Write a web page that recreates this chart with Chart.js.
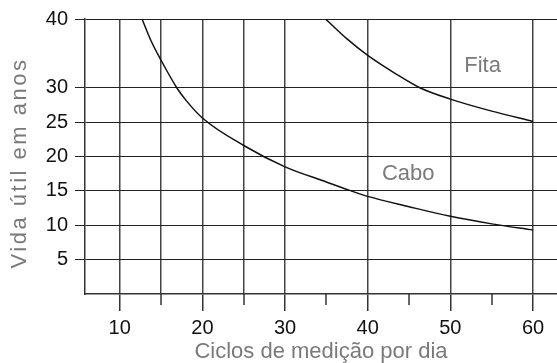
<!DOCTYPE html>
<html>
<head>
<meta charset="utf-8">
<script src="https://cdn.jsdelivr.net/npm/chart.js@4"></script>
<style>
  html, body { margin: 0; padding: 0; background: #fff; }
  #wrap { width: 557px; height: 363px; }
</style>
</head>
<body>
<div id="wrap"><canvas id="chart"></canvas></div>
<script>
// Vida útil (anos) em função dos ciclos de medição por dia
const caboX = [12.7, 13.8, 15, 16.9, 18, 20, 25, 30, 35, 38, 40, 45, 50, 55, 60];
const caboY = [40, 36.8, 34.0, 30, 28.2, 25.6, 21.6, 18.5, 16.3, 15, 14.2, 12.7, 11.3, 10.2, 9.3];
const fitaX = [34.9, 37.5, 40, 43.3, 46.3, 50, 55, 60];
const fitaY = [40, 37.1, 34.7, 32.1, 30, 28.35, 26.6, 25.1];

const xTicks = [10, 15, 20, 25, 30, 35, 40, 45, 50, 55, 60];
const xLabeled = [10, 20, 30, 40, 50, 60];
const xGrid = [10, 15, 20, 25, 30, 40, 50, 60];
const yTicks = [5, 10, 15, 20, 25, 30, 40];

const notes = [
  { text: 'Fita', x: 53.9, y: 33.2 },
  { text: 'Cabo', x: 44.9, y: 17.5 }
];

const tickFont = { family: "'Liberation Sans', Arial, sans-serif", size: 20 };
const textFont = "22px 'Liberation Sans', Arial, sans-serif";
const grey = '#7a7a7a';

const toPoints = (xs, ys) => xs.map((v, i) => ({ x: v, y: ys[i] }));

// short ticks, curve names and the rotated axis title
const extras = {
  id: 'extras',
  afterDraw(chart) {
    const { ctx, chartArea } = chart;
    const x = chart.scales.x, y = chart.scales.y;
    ctx.save();
    ctx.strokeStyle = '#333';
    ctx.lineWidth = 1.5;
    xTicks.filter(v => !xLabeled.includes(v)).forEach(v => {
      const px = Math.round(x.getPixelForValue(v));
      ctx.beginPath();
      ctx.moveTo(px, chartArea.bottom);
      ctx.lineTo(px, chartArea.bottom + 11);
      ctx.stroke();
    });

    ctx.fillStyle = grey;
    ctx.font = textFont;
    ctx.textAlign = 'center';
    ctx.textBaseline = 'middle';
    notes.forEach(n => ctx.fillText(n.text, x.getPixelForValue(n.x), y.getPixelForValue(n.y)));

    ctx.translate(20, 163);
    ctx.rotate(-Math.PI / 2);
    ctx.letterSpacing = '2.5px';
    ctx.fillText('Vida útil em anos', 0, 0);
    ctx.restore();
  }
};

new Chart(document.getElementById('chart').getContext('2d'), {
  type: 'line',
  data: {
    datasets: [
      { label: 'Cabo', data: toPoints(caboX, caboY) },
      { label: 'Fita', data: toPoints(fitaX, fitaY) }
    ]
  },
  options: {
    responsive: true,
    maintainAspectRatio: false,
    animation: false,
    layout: { padding: { top: 19, right: 0, bottom: 0, left: 0 } },
    elements: {
      point: { radius: 0 },
      line: { borderColor: '#111', borderWidth: 1.5, cubicInterpolationMode: 'monotone' }
    },
    plugins: { legend: { display: false }, tooltip: { enabled: false } },
    scales: {
      x: {
        type: 'linear',
        min: 5.8,
        max: 62.9,
        afterBuildTicks: s => { s.ticks = xTicks.map(v => ({ value: v })); },
        afterFit: s => { s.height = 69; },
        ticks: {
          autoSkip: false,
          maxRotation: 0,
          padding: 5,
          color: '#111',
          font: tickFont,
          callback: v => xLabeled.includes(v) ? String(v) : ''
        },
        grid: {
          color: c => xGrid.includes(c.tick && c.tick.value) ? '#444' : 'rgba(0,0,0,0)',
          lineWidth: 1.5,
          tickLength: 17,
          tickColor: c => xLabeled.includes(c.tick && c.tick.value) ? '#333' : 'rgba(0,0,0,0)'
        },
        border: { color: '#333', width: 1.5 },
        title: {
          display: true,
          text: 'Ciclos de medição por dia',
          color: grey,
          font: { family: "'Liberation Sans', Arial, sans-serif", size: 22, lineHeight: 1 },
          padding: { top: 0, bottom: 0 }
        }
      },
      y: {
        min: 0,
        max: 40,
        afterBuildTicks: s => { s.ticks = yTicks.map(v => ({ value: v })); },
        afterFit: s => { s.width = 85; },
        ticks: { padding: 7, color: '#111', font: tickFont },
        grid: { color: '#222', lineWidth: 1, tickLength: 10, tickColor: '#222' },
        border: { color: '#333', width: 1.5 }
      }
    }
  },
  plugins: [extras]
});
</script>
</body>
</html>
